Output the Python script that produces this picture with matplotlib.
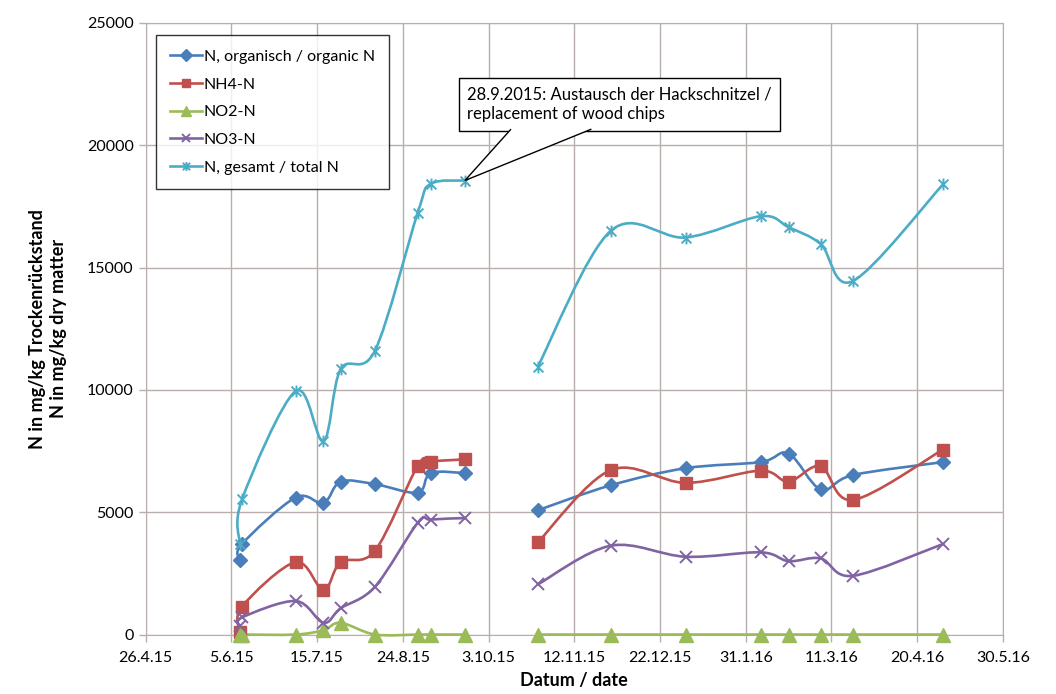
import datetime as dt
import numpy as np
import matplotlib
matplotlib.use("Agg")
import matplotlib.pyplot as plt
import matplotlib.dates as mdates
from matplotlib.path import Path
from matplotlib.patches import PathPatch, Polygon
from matplotlib.lines import Line2D
from matplotlib.ticker import FuncFormatter, MultipleLocator

plt.rcParams["font.family"] = ["Lato", "DejaVu Sans"]

# sampling dates and nitrogen fractions (mg/kg dry matter)
sample_dates = ["2015-06-09", "2015-06-10", "2015-07-05", "2015-07-18", "2015-07-26",
                "2015-08-11", "2015-08-31", "2015-09-06", "2015-09-22",
                "2015-10-26", "2015-11-29", "2016-01-03", "2016-02-07", "2016-02-20",
                "2016-03-06", "2016-03-21", "2016-05-02"]
n_organic = [3050, 3700, 5600, 5370, 6250, 6150, 5800, 6600, 6600,
             5080, 6100, 6800, 7050, 7400, 5930, 6520, 7050]
nh4_n = [100, 1140, 2960, 1820, 2960, 3420, 6900, 7070, 7160,
         3770, 6720, 6200, 6700, 6250, 6880, 5500, 7560]
no2_n = [0, 0, 0, 180, 480, 0, 0, 0, 0,
         0, 0, 0, 0, 0, 0, 0, 0]
no3_n = [350, 700, 1370, 480, 1070, 1950, 4570, 4700, 4760,
         2050, 3630, 3180, 3360, 3000, 3110, 2400, 3700]
n_total = [3700, 5520, 9950, 7900, 10840, 11600, 17250, 18420, 18560,
           10950, 16500, 16230, 17100, 16650, 15960, 14450, 18400]

exchange_date = "2015-09-28"
callout_text = "28.9.2015: Austausch der Hackschnitzel /\nreplacement of wood chips"

series = [
    ("N, organisch / organic N", n_organic, "#4a7ebb", "D", 7.5),
    ("NH4-N", nh4_n, "#c0504d", "s", 8.5),
    ("NO2-N", no2_n, "#9bbb59", "^", 9.5),
    ("NO3-N", no3_n, "#8064a2", "x", 8.5),
    ("N, gesamt / total N", n_total, "#4bacc6", "star", 8.5),
]

# Excel-style star: an x with a vertical bar through it
star = Path([(-1, -1), (1, 1), (-1, 1), (1, -1), (0, -1.2), (0, 1.2)],
            [Path.MOVETO, Path.LINETO, Path.MOVETO, Path.LINETO, Path.MOVETO, Path.LINETO])


def smooth_path(x, y):
    """Catmull-Rom style bezier through the points (like Excel smoothed lines)."""
    pts = np.column_stack([x, y]).astype(float)
    n = len(pts)
    verts = [pts[0]]
    codes = [Path.MOVETO]
    for i in range(n - 1):
        p0 = pts[i - 1] if i > 0 else pts[i]
        p1, p2 = pts[i], pts[i + 1]
        p3 = pts[i + 2] if i + 2 < n else pts[i + 1]
        c1 = p1 + (p2 - p0) / 6.0
        c2 = p2 - (p3 - p1) / 6.0
        verts += [c1, c2, p2]
        codes += [Path.CURVE4] * 3
    return Path(verts, codes)


x = mdates.date2num([dt.date.fromisoformat(d) for d in sample_dates])
cut = mdates.date2num(dt.date.fromisoformat(exchange_date))
blocks = [x < cut, x >= cut]

fig = plt.figure(figsize=(10.56, 6.94), dpi=100)
ax = fig.add_axes([0.1378, 0.0857, 0.8120, 0.8812])

handles = []
for label, vals, color, marker, ms in series:
    vals = np.asarray(vals, dtype=float)
    mk = star if marker == "star" else marker
    mew = 1.4 if marker in ("x", "star") else 1.0
    for m in blocks:
        ax.add_patch(PathPatch(smooth_path(x[m], vals[m]), facecolor="none",
                               edgecolor=color, lw=1.9, zorder=3, clip_on=False))
    ax.plot(x, vals, linestyle="none", marker=mk, markersize=ms, color=color,
            markeredgecolor=color, markeredgewidth=mew, zorder=4, clip_on=False)
    handles.append(Line2D([], [], color=color, lw=1.9, marker=mk, markersize=ms * 0.75,
                          markeredgewidth=mew, label=label))

start = mdates.date2num(dt.date(2015, 4, 26))
ax.set_xlim(start, start + 400)
ax.set_ylim(0, 25000)
ax.xaxis.set_major_locator(MultipleLocator(40, offset=start % 40))
ax.xaxis.set_major_formatter(FuncFormatter(
    lambda v, pos: (lambda d: f"{d.day}.{d.month}.{d.year % 100}")(mdates.num2date(v))))
ax.yaxis.set_major_locator(MultipleLocator(5000))

ax.grid(True, color="#b8afac", lw=1.0)
ax.set_axisbelow(True)
for s in ax.spines.values():
    s.set_color("#b8afac")
ax.tick_params(axis="both", colors="#b8afac", labelcolor="black", labelsize=11.5,
               length=5, width=1)
ax.tick_params(axis="x", pad=7)

ax.set_xlabel("Datum / date", fontsize=13, fontweight="bold", labelpad=5)
ax.set_ylabel("N in mg/kg Trockenrückstand\nN in mg/kg dry matter", fontsize=13,
              fontweight="bold", labelpad=14, linespacing=1.3)

leg = ax.legend(handles=handles, loc="upper left", bbox_to_anchor=(0.012, 0.98),
                fontsize=11.5, frameon=True, fancybox=False, handlelength=2.0,
                handletextpad=0.1, labelspacing=0.85, borderpad=0.9, borderaxespad=0)
leg.get_frame().set_edgecolor("black")
leg.get_frame().set_linewidth(1.0)

# callout for the wood chip exchange
tip_x, tip_y = x[8], n_total[8]
ax.text(start + 150, 22400, callout_text, fontsize=12, va="top", ha="left",
        linespacing=1.3, zorder=6,
        bbox=dict(boxstyle="square,pad=0.5", facecolor="white", edgecolor="black", lw=1.0))
ax.add_patch(Polygon([(start + 170.5, 20660), (tip_x, tip_y), (start + 208, 20660)],
                     closed=False, facecolor="white", edgecolor="black", lw=1.0, zorder=7))

fig.savefig("out.png", dpi=100)
